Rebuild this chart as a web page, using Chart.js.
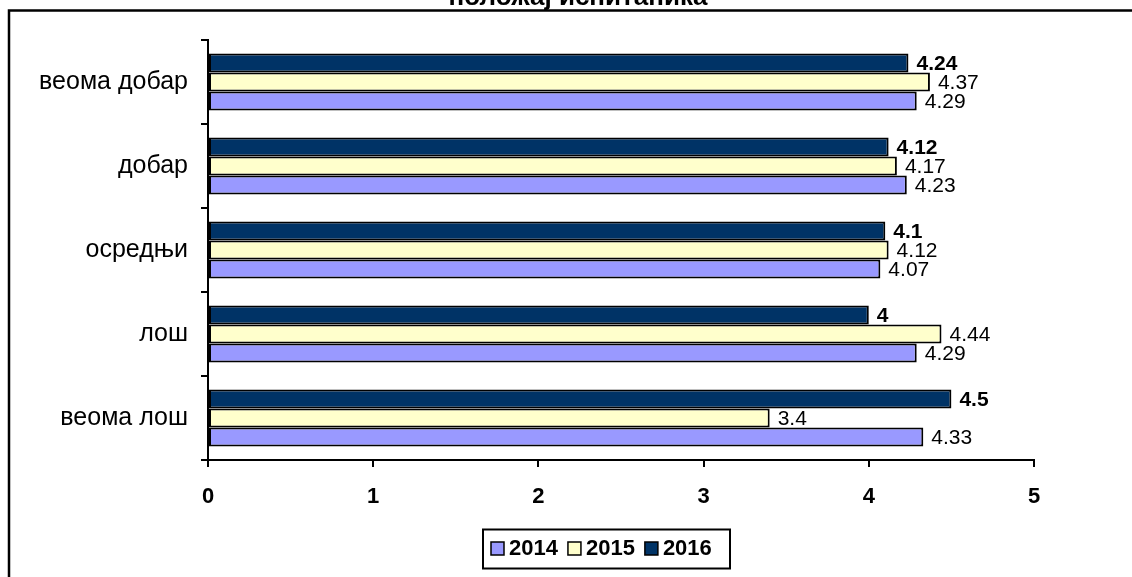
<!DOCTYPE html>
<html>
<head>
<meta charset="utf-8">
<script src="https://cdn.jsdelivr.net/npm/chart.js@4/dist/chart.umd.min.js"></script>
<style>
  html, body { margin: 0; padding: 0; background: #fff; }
  canvas { display: block; }
</style>
</head>
<body>
<canvas id="chart" width="1132" height="577"></canvas>
<script>
// DATA
const chartTitle = "положај испитаника";
const categories = ["веома добар", "добар", "осредњи", "лош", "веома лош"];
const years = ["2014", "2015", "2016"];
const values2014 = [4.29, 4.23, 4.07, 4.29, 4.33];
const values2015 = [4.37, 4.17, 4.12, 4.44, 3.4];
const values2016 = [4.24, 4.12, 4.1, 4, 4.5];
const xTicks = [0, 1, 2, 3, 4, 5];

const colors = { "2014": "#9999FF", "2015": "#FFFFCC", "2016": "#003366" };
const FONT = "'Liberation Sans', Arial, sans-serif";

// 2016 on top of each group, like the original
const series = [
  { year: "2016", data: values2016 },
  { year: "2015", data: values2015 },
  { year: "2014", data: values2014 }
];

// EXTRA DRAWING: frame, title, value labels, legend
const extras = {
  id: "extras",
  beforeDraw(chart) {
    const ctx = chart.ctx;
    ctx.save();
    ctx.strokeStyle = "#000";
    ctx.lineWidth = 2.5;
    ctx.strokeRect(9, 10.5, 3000, 3000);
    ctx.restore();
  },
  afterDatasetsDraw(chart) {
    const ctx = chart.ctx;
    ctx.save();
    ctx.fillStyle = "#000";
    ctx.textBaseline = "middle";
    ctx.textAlign = "left";
    chart.data.datasets.forEach((ds, i) => {
      const meta = chart.getDatasetMeta(i);
      ctx.font = (ds.label === "2016" ? "bold " : "") + "21px " + FONT;
      meta.data.forEach((bar, j) => {
        ctx.fillText(String(ds.data[j]), bar.x + 8, bar.y + 1);
      });
    });
    ctx.restore();
  },
  afterDraw(chart) {
    const ctx = chart.ctx;
    ctx.save();
    // title (cut off at top of the picture)
    ctx.fillStyle = "#000";
    ctx.font = "bold 26px " + FONT;
    ctx.textAlign = "center";
    ctx.textBaseline = "alphabetic";
    ctx.fillText(chartTitle, 578, 5);

    // legend
    ctx.strokeStyle = "#000";
    ctx.lineWidth = 2;
    ctx.strokeRect(483, 529.5, 247, 39);
    ctx.font = "bold 22px " + FONT;
    ctx.textAlign = "left";
    ctx.textBaseline = "middle";
    let x = 491;
    years.forEach(y => {
      ctx.fillStyle = colors[y];
      ctx.fillRect(x, 542, 13, 13);
      ctx.lineWidth = 1.5;
      ctx.strokeRect(x, 542, 13, 13);
      ctx.fillStyle = "#000";
      ctx.fillText(y, x + 18, 549);
      x += 18 + ctx.measureText(y).width + 10;
    });
    ctx.restore();
  }
};

new Chart(document.getElementById("chart"), {
  type: "bar",
  data: {
    labels: categories,
    datasets: series.map(s => ({
      label: s.year,
      data: s.data,
      backgroundColor: colors[s.year],
      borderColor: "#000",
      borderWidth: 2,
      borderSkipped: false,
      categoryPercentage: 0.68,
      barPercentage: 1
    }))
  },
  options: {
    indexAxis: "y",
    responsive: false,
    animation: false,
    layout: { padding: { left: 0, right: 98, top: 40, bottom: 0 } },
    plugins: {
      legend: { display: false },
      title: { display: false },
      tooltip: { enabled: false }
    },
    scales: {
      x: {
        min: 0,
        max: 5,
        afterFit(scale) { scale.height = 117; },
        afterBuildTicks(scale) { scale.ticks = xTicks.map(v => ({ value: v })); },
        border: { color: "#000", width: 2 },
        grid: { drawOnChartArea: false, color: "#000", lineWidth: 2, tickLength: 7 },
        ticks: { color: "#000", padding: 17, font: { family: FONT, size: 22, weight: "bold" } }
      },
      y: {
        afterFit(scale) { scale.width = 208; },
        border: { color: "#000", width: 2 },
        grid: { drawOnChartArea: false, color: "#000", lineWidth: 2, tickLength: 7, offset: true },
        ticks: { color: "#000", padding: 13, font: { family: FONT, size: 25 } }
      }
    }
  },
  plugins: [extras]
});
</script>
</body>
</html>
